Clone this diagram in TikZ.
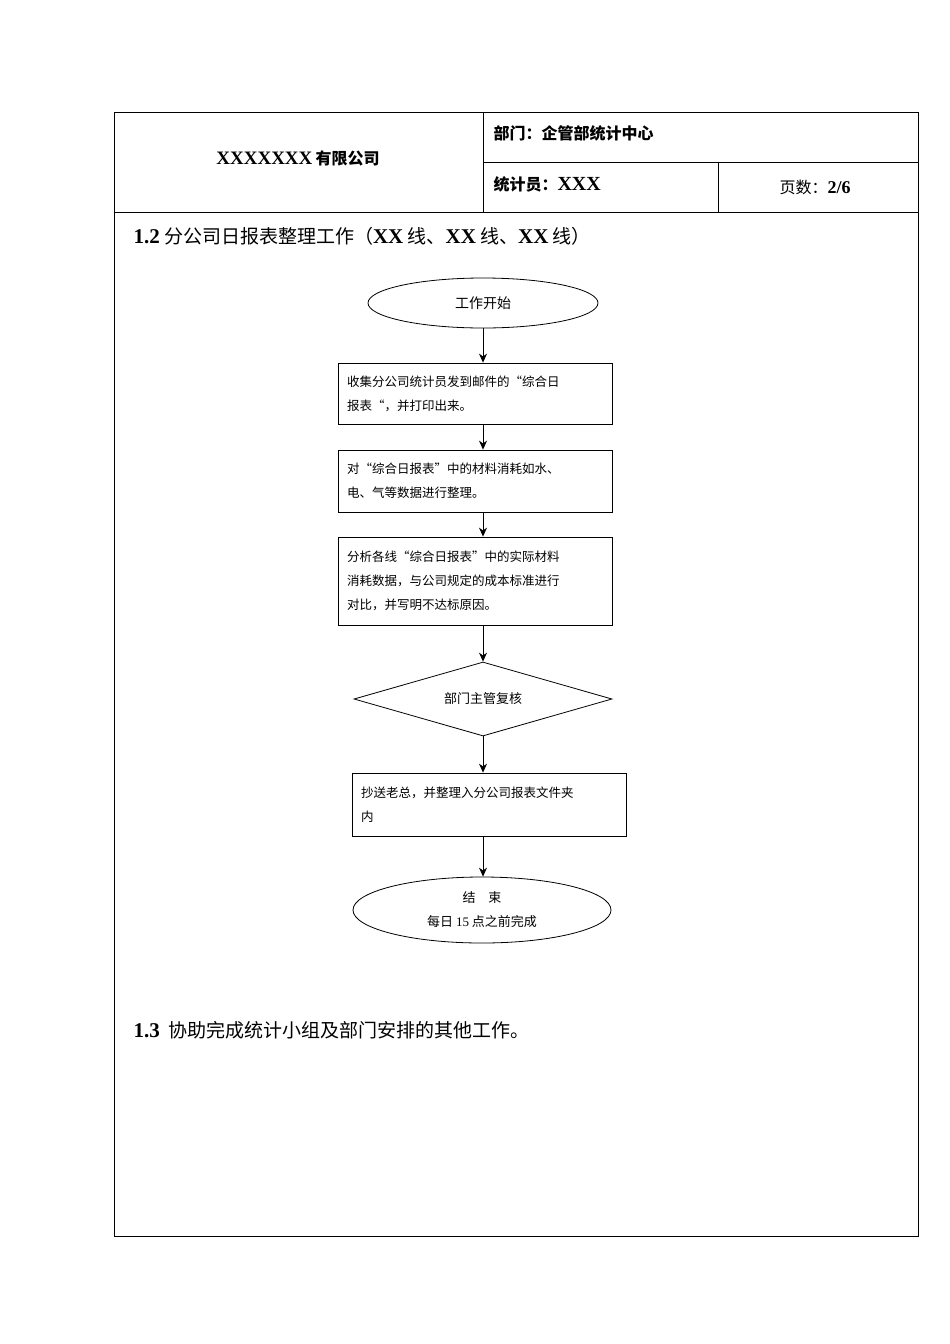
\documentclass[tikz,border=0pt]{standalone}
\usepackage{fontspec}
\setmainfont{Noto Sans CJK SC}
\newfontfamily\lat{Liberation Serif}
\XeTeXlinebreaklocale "zh"
\XeTeXlinebreakskip=0pt plus 1pt
\usetikzlibrary{shapes.geometric,arrows.meta}
\tikzset{
 pbox/.style={draw,thick,minimum width=274pt,text width=256pt,align=left,font=\fontsize{12.5}{24}\selectfont,inner sep=0pt},
 arr/.style={draw,thick,-{Stealth[length=9pt,width=8pt]}},
 frame/.style={draw,line width=0.8pt}
}
\begin{document}
\begin{tikzpicture}[x=1pt,y=-1pt]
\useasboundingbox[fill=white] (0,0) rectangle (950,1344);
\draw[frame] (114,112) rectangle (918,1236);
\draw[frame] (114,212) -- (918,212);
\draw[frame] (483,112) -- (483,212);
\draw[frame] (483,162) -- (918,162);
\draw[frame] (718,162) -- (718,212);
\node (co) at (298,158) {\fontsize{19}{20}\selectfont\lat\bfseries XXXXXXX\,\normalfont\fontsize{16}{18}\selectfont\bfseries 有限公司};
\node[anchor=west] (dept) at (490,133) {\fontsize{16}{18}\selectfont\bfseries 部门：企管部统计中心};
\node[anchor=west] (stat) at (490,184) {\fontsize{16}{18}\selectfont\bfseries 统计员：{\lat\bfseries\fontsize{20}{20}\selectfont XXX}};
\node (page) at (815,187) {\fontsize{16}{18}\selectfont 页数：{\lat\bfseries\fontsize{18}{18}\selectfont 2/6}};
\node[anchor=west] (t12) at (130,236) {\fontsize{19}{22}\selectfont{\lat\bfseries\fontsize{21}{22}\selectfont 1.2} 分公司日报表整理工作（{\lat\bfseries\fontsize{21}{22}\selectfont XX} 线、{\lat\bfseries\fontsize{21}{22}\selectfont XX} 线、{\lat\bfseries\fontsize{21}{22}\selectfont XX} 线）};
\node[draw,thick,ellipse,minimum width=230pt,minimum height=50pt,font=\fontsize{14}{16}\selectfont] (start) at (483,303) {工作开始};
\node[pbox,minimum height=61pt] (b1) at (475,393.5) {收集分公司统计员发到邮件的“综合日\\报表“，并打印出来。};
\node[pbox,minimum height=62pt] (b2) at (475,481) {对“综合日报表”中的材料消耗如水、\\电、气等数据进行整理。};
\node[pbox,minimum height=88pt] (b3) at (475,581) {分析各线“综合日报表”中的实际材料\\消耗数据，与公司规定的成本标准进行\\对比，并写明不达标原因。};
\node[draw,thick,diamond,aspect=3.5,minimum width=258pt,minimum height=74pt,inner sep=0pt] (chk) at (483,699) {};
\node[font=\fontsize{13}{16}\selectfont] (chkt) at (chk) {部门主管复核};
\node[pbox,minimum height=63pt] (b4) at (489,804.5) {抄送老总，并整理入分公司报表文件夹\\内};
\node[draw,thick,ellipse,minimum width=258pt,minimum height=66pt,align=center,font=\fontsize{13}{24}\selectfont] (end) at (482,910) {结\quad 束\\每日 {\lat 15} 点之前完成};
\node[anchor=west] (t13) at (130,1030) {\fontsize{19}{22}\selectfont{\lat\bfseries\fontsize{21}{22}\selectfont 1.3}\ \ 协助完成统计小组及部门安排的其他工作。};
\draw[arr] (start) -- (b1.north -| start);
\draw[arr] (b1.south -| start) -- (b2.north -| start);
\draw[arr] (b2.south -| start) -- (b3.north -| start);
\draw[arr] (b3.south -| start) -- (chk.north);
\draw[arr] (chk.south) -- (b4.north -| chk);
\draw[arr] (b4.south -| chk) -- (end.north -| chk);
\end{tikzpicture}
\end{document}
